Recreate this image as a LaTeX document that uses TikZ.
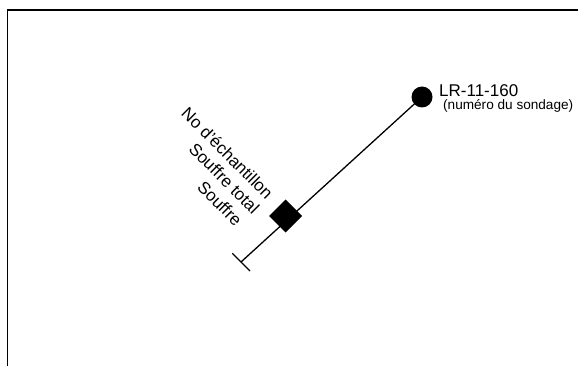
\documentclass[tikz,border=0pt]{standalone}
\usepackage{fontspec}
\setmainfont{Liberation Sans}
\usetikzlibrary{shapes.geometric}
\begin{document}
\begin{tikzpicture}[x=1pt,y=-1pt,
  frameline/.style={line width=1.7pt},
  conn/.style={line width=1.3pt},
  lbl/.style={inner sep=0pt,font=\fontsize{17}{20}\selectfont},
  rotlbl/.style={lbl,rotate=-45,anchor=base east}]
\useasboundingbox (0,0) rectangle (578,366);
% frame
\coordinate (fbl) at (7.5,367);
\coordinate (ftl) at (7.5,10);
\coordinate (ftr) at (579,10);
\draw[frameline] (fbl) -- (ftl) -- (ftr);
% borehole
\node[circle,fill=black,minimum size=21pt,inner sep=0pt] (dot) at (422,97) {};
\coordinate (end) at (241,262);
\coordinate (t1) at (232.3,253.3);
\coordinate (t2) at (250,271);
\draw[conn] (end) -- (dot.center);
\draw[conn] (t1) -- (t2);
\node[diamond,aspect=1,fill=black,minimum width=33pt,minimum height=33pt,inner sep=0pt] (dia) at (285.6,216) {};
% labels
\node[lbl,anchor=base west] (id) at (439,96.7) {LR-11-160};
\node[lbl,anchor=base west,font=\fontsize{13.6}{16}\selectfont] (sub) at (443,110) {(numéro du sondage)};
\node[rotlbl] (r1) at (266,200.5) {No d'échantillon};
\node[rotlbl] (r2) at (252.5,215) {Souffre total};
\node[rotlbl] (r3) at (235,227) {Souffre};
\end{tikzpicture}
\end{document}
